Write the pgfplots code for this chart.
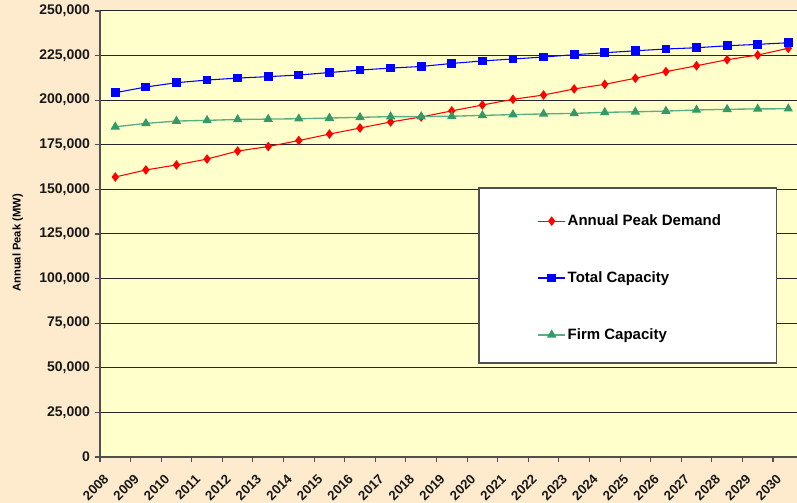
\documentclass[border=0pt]{standalone}
\usepackage{fontspec}
\setmainfont{Liberation Sans}
\usepackage{pgfplots}
\pgfplotsset{compat=1.18}
\definecolor{bgpeach}{RGB}{254,235,205}
\definecolor{plotyellow}{RGB}{255,255,204}
\definecolor{fgreen}{RGB}{51,153,102}
\definecolor{lgreen}{RGB}{90,175,130}
\definecolor{axgray}{RGB}{80,80,80}
\begin{document}
\begin{tikzpicture}
\useasboundingbox (0,0) rectangle (597.75pt,377.25pt);
\fill[bgpeach] (0,0) rectangle (597.75pt,377.25pt);
\begin{axis}[
  at={(75pt,34.5pt)}, anchor=south west,
  scale only axis, width=522.75pt, height=334.5pt,
  xmin=0, xmax=22.785, ymin=0, ymax=250000,
  axis background/.style={fill=plotyellow},
  axis lines*=left,
  axis line style={axgray, line width=1.1pt},
  tick align=outside,
  major tick length=4pt,
  tick style={axgray, line width=0.8pt},
  xtick={0,...,22},
  xticklabels={2008,2009,2010,2011,2012,2013,2014,2015,2016,2017,2018,2019,2020,2021,2022,2023,2024,2025,2026,2027,2028,2029,2030},
  ytick={0,25000,...,250000},
  scaled y ticks=false,
  /pgf/number format/.cd, fixed, precision=0, 1000 sep={,}, assume math mode=true, /pgfplots/.cd,
  yticklabel style={font=\fontsize{10.5}{12}\selectfont\bfseries, text=black!90},
  xticklabel style={font=\fontsize{10}{11}\selectfont\bfseries, text=black!90, xshift=7pt, yshift=-8.5pt, rotate=45, anchor=east},
  ymajorgrids, grid style={black!85, line width=0.75pt},
  ylabel={Annual Peak (MW)},
  ylabel style={font=\fontsize{8.4}{10}\selectfont\bfseries, at={(axis description cs:-0.118,0.48)}, anchor=center},
  clip=false,
  legend cell align=left,
  legend image code/.code={\draw[mark repeat=2,mark phase=2,#1] plot coordinates {(0pt,0pt)(10pt,0pt)(20pt,0pt)};},
  legend style={at={(axis cs:14.3,100336)}, anchor=west, draw=none, fill=none,
    font=\fontsize{11.25}{13}\selectfont\bfseries, row sep=30pt, inner sep=0pt,
    nodes={inner sep=1.5pt}},
]
\draw[draw=axgray, fill=white, line width=0.8pt] (axis cs:12.39,52690) rectangle (axis cs:22.10,150785);
\addplot[red, line width=0.8pt, mark=diamond*, mark size=3pt, mark options={solid, fill=red, draw=red}]
coordinates {
(0.5,156950)(1.5,160900)(2.5,163700)(3.5,167000)(4.5,171500)(5.5,174000)(6.5,177400)(7.5,181000)(8.5,184400)(9.5,187800)(10.5,190600)(11.5,194000)(12.5,197300)(13.5,200500)(14.5,202900)(15.5,206300)(16.5,208900)(17.5,212300)(18.5,216000)(19.5,219300)(20.5,222700)(21.5,225300)(22.5,229100)};
\addlegendentry{Annual Peak Demand}
\addplot[blue, line width=0.8pt, mark=square*, mark size=2.9pt, mark options={solid, fill=blue, draw=blue}]
coordinates {
(0.5,204200)(1.5,207400)(2.5,209800)(3.5,211300)(4.5,212400)(5.5,213200)(6.5,214100)(7.5,215500)(8.5,216900)(9.5,218000)(10.5,218900)(11.5,220600)(12.5,222000)(13.5,223100)(14.5,224200)(15.5,225500)(16.5,226600)(17.5,227700)(18.5,228700)(19.5,229400)(20.5,230500)(21.5,231300)(22.5,232200)};
\addlegendentry{Total Capacity}
\addplot[lgreen, line width=1pt, mark=triangle*, mark size=3.1pt, mark options={solid, fill=fgreen, draw=fgreen}]
coordinates {
(0.5,185100)(1.5,187000)(2.5,188300)(3.5,188700)(4.5,189200)(5.5,189400)(6.5,189600)(7.5,190000)(8.5,190400)(9.5,190800)(10.5,190800)(11.5,191000)(12.5,191500)(13.5,191900)(14.5,192300)(15.5,192600)(16.5,193200)(17.5,193500)(18.5,193900)(19.5,194500)(20.5,194900)(21.5,195100)(22.5,195200)};
\addlegendentry{Firm Capacity}
\end{axis}
\end{tikzpicture}
\end{document}
